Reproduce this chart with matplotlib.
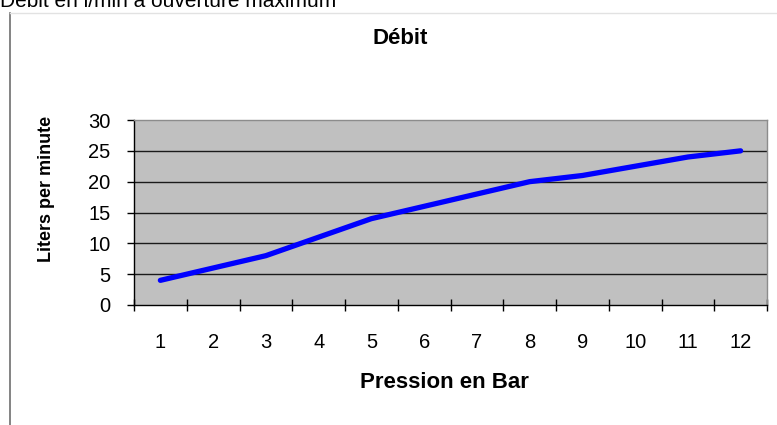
import matplotlib.pyplot as plt
from matplotlib.lines import Line2D
import numpy as np

# Data
pressure_bar = [1, 2, 3, 4, 5, 6, 7, 8, 9, 10, 11, 12]
debit_lpm = [4, 6, 8, 11, 14, 16, 18, 20, 21, 22.5, 24, 25]
y_ticks = [0, 5, 10, 15, 20, 25, 30]

plt.rcParams['font.family'] = ['Liberation Sans', 'DejaVu Sans']

W, H = 777, 425
fig = plt.figure(figsize=(W / 100, H / 100), dpi=100)
fig.patch.set_facecolor('white')

# chart object frame (left + top border of the embedded chart)
fig.add_artist(Line2D([10 / W, 10 / W], [0, 1 - 13 / H], transform=fig.transFigure,
                      color='#6e6e6e', lw=1.2))
fig.add_artist(Line2D([10 / W, 1], [1 - 13 / H, 1 - 13 / H], transform=fig.transFigure,
                      color='#e2e2e2', lw=1.0))

# caption above the chart, partly cut off at the top
fig.text(0 / W, 1 - 7 / H, 'Débit en l/min à ouverture maximum', ha='left', va='baseline',
         fontsize=15, color='black')

left, right, top, bottom = 134, 767, 120, 305
ax = fig.add_axes([left / W, 1 - bottom / H, (right - left) / W, (bottom - top) / H])
ax.set_facecolor('#c0c0c0')

x = np.arange(len(pressure_bar))
ax.plot(x, debit_lpm, color='#0000ff', lw=3.8, solid_capstyle='round',
        solid_joinstyle='round', zorder=3)

ax.set_xlim(-0.5, len(pressure_bar) - 0.5)
ax.set_ylim(0, 30)

# gridlines
for v in y_ticks[1:-1]:
    ax.axhline(v, color='#1a1a1a', lw=1.0, zorder=1)

ax.set_yticks(y_ticks)
ax.set_yticklabels([str(v) for v in y_ticks])
ax.tick_params(axis='y', direction='out', length=5, width=1, pad=12, labelsize=14.5)

ax.set_xticks(x)
ax.set_xticklabels([str(p) for p in pressure_bar])
ax.set_xticks(np.arange(-0.5, len(pressure_bar)), minor=True)
ax.tick_params(axis='x', which='major', length=0, pad=20, labelsize=14.5)
ax.tick_params(axis='x', which='minor', direction='inout', length=9, width=1)

for side in ['left', 'bottom']:
    ax.spines[side].set_color('black')
    ax.spines[side].set_linewidth(1.0)
for side in ['top', 'right']:
    ax.spines[side].set_color('#8c8c8c')
    ax.spines[side].set_linewidth(1.0)

fig.text(400 / W, 1 - 38 / H, 'Débit', ha='center', va='center',
         fontsize=16, fontweight='bold')
fig.text(47 / W, 1 - 189 / H, 'Liters per minute', ha='center', va='center',
         rotation=90, fontsize=13, fontweight='bold')
fig.text(444 / W, 1 - 382 / H, 'Pression en Bar', ha='center', va='center',
         fontsize=16, fontweight='bold')

fig.savefig('out.png', dpi=100)
